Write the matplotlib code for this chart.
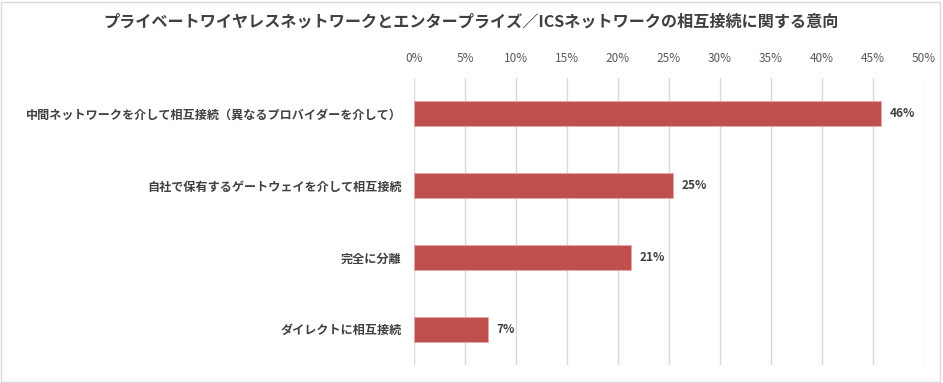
import matplotlib
matplotlib.use("Agg")
import matplotlib.pyplot as plt
from matplotlib.patches import Rectangle

plt.rcParams['font.family'] = ['Noto Sans CJK JP', 'DejaVu Sans']

title = "プライベートワイヤレスネットワークとエンタープライズ／ICSネットワークの相互接続に関する意向"
categories = [
    "中間ネットワークを介して相互接続（異なるプロバイダーを介して）",
    "自社で保有するゲートウェイを介して相互接続",
    "完全に分離",
    "ダイレクトに相互接続",
]
values = [45.8, 25.4, 21.3, 7.3]
value_labels = ["46%", "25%", "21%", "7%"]
xticks = [0, 5, 10, 15, 20, 25, 30, 35, 40, 45, 50]
xtick_labels = [f"{t}%" for t in xticks]

W, H = 943, 383
fig = plt.figure(figsize=(W / 100, H / 100), dpi=100)
ax = fig.add_axes([414 / W, 1 - 365 / H, (924 - 414) / W, (365 - 78) / H])

y = list(range(len(categories)))
ax.barh(y, values, height=0.35, color="#C0504D", edgecolor="#E8A9A7", linewidth=0.6, zorder=3)
ax.set_ylim(len(categories) - 0.5, -0.5)
ax.set_xlim(0, 50)
ax.set_xticks(xticks)
ax.set_xticklabels(xtick_labels)
ax.xaxis.tick_top()
ax.tick_params(axis="x", length=0, pad=9, labelsize=8.5, labelcolor="#595959")
ax.set_yticks(y)
ax.set_yticklabels(categories, fontsize=8.7, fontweight="bold", color="#404040")
ax.tick_params(axis="y", length=0, pad=9)
ax.grid(axis="x", color="#D9D9D9", linewidth=1, zorder=0)
for s in ax.spines.values():
    s.set_visible(False)

for yi, v, lab in zip(y, values, value_labels):
    ax.annotate(lab, xy=(v, yi), xytext=(6, 0), textcoords="offset points",
                va="center", ha="left", fontsize=8.5, fontweight="bold", color="#404040")

fig.text(471 / W, 1 - 22 / H, title, ha="center", va="center",
         fontsize=11.6, fontweight="bold", color="#404040")

fig.patches.append(Rectangle((1 / W, 1 / H), 939 / W, 380 / H, transform=fig.transFigure,
                             fill=False, edgecolor="#D9D9D9", linewidth=1))

fig.savefig("out.png", dpi=100, facecolor="white")
